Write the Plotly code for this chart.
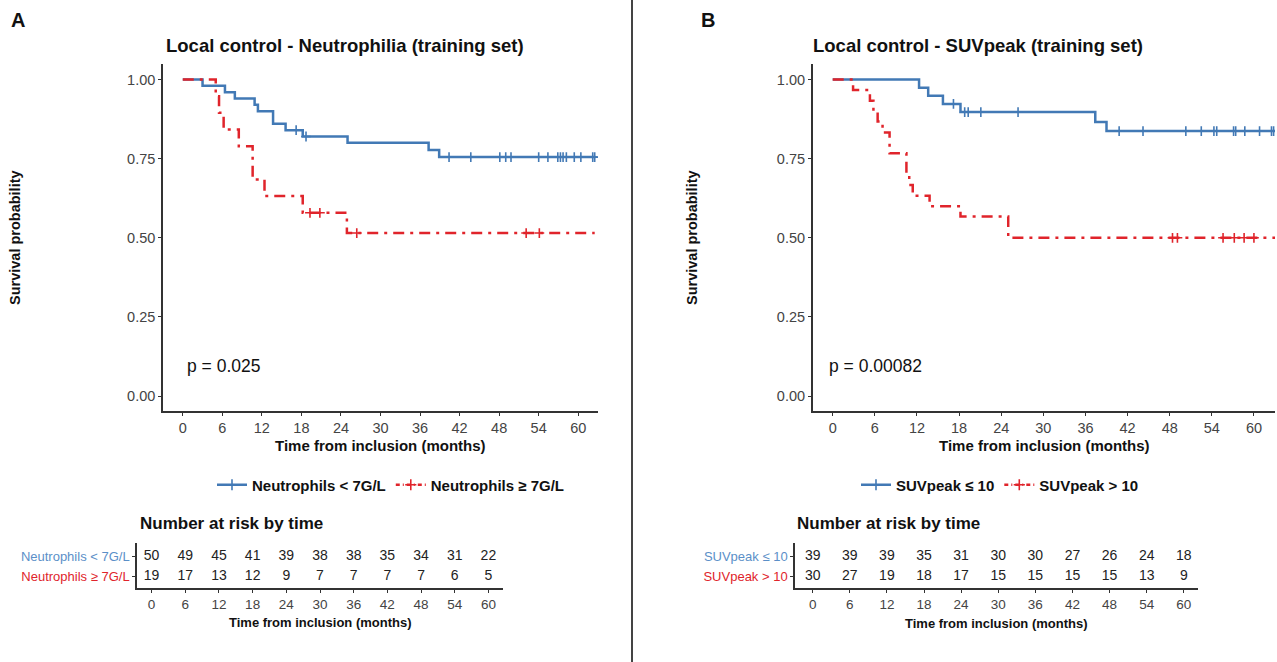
import numpy as np
import plotly.graph_objects as go

W, H = 1277, 662

risk_times = [0, 6, 12, 18, 24, 30, 36, 42, 48, 54, 60]

# panel A : neutrophils
a_low_t = [0, 3.0, 6.4, 7.9, 10.9, 11.4, 13.7, 15.6, 18.2, 25.0, 37.3, 38.9, 62.6]
a_low_s = [1, 0.98, 0.96, 0.94, 0.92, 0.90, 0.86, 0.84, 0.82, 0.80, 0.777, 0.755, 0.755]
a_low_cens = [17.2, 18.7, 40.4, 43.7, 48.1, 49.0, 49.8, 54.0, 55.4, 56.9, 57.3,
              57.7, 58.2, 59.4, 60.4, 62.2, 62.5]
a_high_t = [0, 5.0, 5.5, 6.2, 8.5, 10.6, 12.4, 18.2, 24.9, 62.5]
a_high_s = [1, 0.947, 0.895, 0.842, 0.789, 0.684, 0.632, 0.579, 0.515, 0.515]
a_high_cens = [19.3, 20.8, 26.4, 52.1, 54.1]
a_risk_low = [50, 49, 45, 41, 39, 38, 38, 35, 34, 31, 22]
a_risk_high = [19, 17, 13, 12, 9, 7, 7, 7, 7, 6, 5]
a_labels = ["Neutrophils < 7G/L", "Neutrophils \u2265 7G/L"]

# panel B : SUVpeak
b_low_t = [0, 12.3, 13.6, 15.7, 18.2, 37.4, 39.0, 63]
b_low_s = [1, 0.974, 0.949, 0.923, 0.897, 0.866, 0.837, 0.837]
b_low_cens = [17.2, 18.8, 19.3, 21.1, 26.4, 40.8, 44.2, 50.3, 52.5, 54.3, 54.7,
              57.1, 57.4, 58.7, 60.8, 62.5, 62.8]
b_high_t = [0, 2.9, 5.3, 5.8, 6.4, 7.1, 8.1, 10.5, 10.9, 11.4, 13.8, 18.2, 25.0, 63]
b_high_s = [1, 0.967, 0.933, 0.90, 0.867, 0.833, 0.767, 0.70, 0.667, 0.633, 0.60,
            0.567, 0.50, 0.50]
b_high_cens = [48.4, 49.1, 55.6, 57.2, 58.6, 60.0]
b_risk_low = [39, 39, 39, 35, 31, 30, 30, 27, 26, 24, 18]
b_risk_high = [30, 27, 19, 18, 17, 15, 15, 15, 15, 13, 9]
b_labels = ["SUVpeak \u2264 10", "SUVpeak > 10"]

BLUE = "#4279B5"
RED = "#E0242B"
FONT = "Liberation Sans, Arial, sans-serif"
AXC = "#333333"
DASH = "11px,6px,3px,6px"


def px(x):
    return x / W


def py(y):
    return 1 - y / H


def km_traces(t, s, cens, color, dash, xa, ya):
    line = go.Scatter(x=t, y=s, mode="lines", xaxis=xa, yaxis=ya, showlegend=False,
                      line=dict(color=color, width=2.5, dash=dash, shape="hv"),
                      hoverinfo="skip")
    idx = np.searchsorted(t, cens, side="right") - 1
    cy = [s[i] for i in idx]
    marks = go.Scatter(x=cens, y=cy, mode="markers", xaxis=xa, yaxis=ya, showlegend=False,
                       marker=dict(symbol="cross-thin", size=7, color=color,
                                   line=dict(color=color, width=1.6)),
                       hoverinfo="skip")
    return [line, marks]


fig = go.Figure()

for tr in km_traces(a_low_t, a_low_s, a_low_cens, BLUE, "solid", "x", "y"):
    fig.add_trace(tr)
for tr in km_traces(a_high_t, a_high_s, a_high_cens, RED, DASH, "x", "y"):
    fig.add_trace(tr)
for tr in km_traces(b_low_t, b_low_s, b_low_cens, BLUE, "solid", "x3", "y3"):
    fig.add_trace(tr)
for tr in km_traces(b_high_t, b_high_s, b_high_cens, RED, DASH, "x3", "y3"):
    fig.add_trace(tr)

# legend entries
for labels, lg, xa, ya in [(a_labels, "legend", "x", "y"), (b_labels, "legend2", "x3", "y3")]:
    for name, color, dash in zip(labels, [BLUE, RED], ["solid", "4px,3px,1px,3px"]):
        fig.add_trace(go.Scatter(x=[None], y=[None], mode="lines+markers", name=name,
                                 legend=lg, xaxis=xa, yaxis=ya,
                                 line=dict(color=color, width=2.5, dash=dash),
                                 marker=dict(symbol="cross-thin", size=8, color=color,
                                             line=dict(color=color, width=1.6))))

# risk tables
for vals, row in [(a_risk_low, 1), (a_risk_high, 0)]:
    fig.add_trace(go.Scatter(x=risk_times, y=[row] * len(risk_times), text=[str(v) for v in vals],
                             mode="text", xaxis="x2", yaxis="y2", showlegend=False,
                             textfont=dict(size=14, color="#222222"), hoverinfo="skip"))
for vals, row in [(b_risk_low, 1), (b_risk_high, 0)]:
    fig.add_trace(go.Scatter(x=risk_times, y=[row] * len(risk_times), text=[str(v) for v in vals],
                             mode="text", xaxis="x4", yaxis="y4", showlegend=False,
                             textfont=dict(size=14, color="#222222"), hoverinfo="skip"))

axis_common = dict(showline=True, linecolor=AXC, linewidth=1.5, ticks="outside", ticklen=3,
                   tickcolor=AXC, tickwidth=1.2, showgrid=False, zeroline=False,
                   tickfont=dict(size=14.5, color="#444444", family=FONT))
tab_common = dict(axis_common, tickfont=dict(size=13.5, color="#444444", family=FONT))


def row_ticks(labels):
    return ['<span style="color:%s">%s</span>' % (RED, labels[1]),
            '<span style="color:%s">%s</span>' % ("#5B8FC8", labels[0])]


main_y = dict(axis_common, range=[-0.047, 1.049], tickvals=[0, 0.25, 0.5, 0.75, 1],
              tickformat=".2f", domain=[py(411), py(64)])
tab_y = dict(tab_common, range=[-0.6, 1.65], tickvals=[0, 1], domain=[py(588), py(543)],
             tickfont=dict(size=13, family=FONT))

fig.update_layout(
    width=W, height=H, margin=dict(l=0, r=0, t=0, b=0),
    paper_bgcolor="white", plot_bgcolor="white",
    font=dict(family=FONT, color="#111111"),
    xaxis=dict(axis_common, domain=[px(163), px(598)], range=[-3, 63], tickvals=risk_times, anchor="y"),
    yaxis=dict(main_y, anchor="x"),
    xaxis2=dict(tab_common, domain=[px(137), px(503)], range=[-2.6, 62.6], tickvals=risk_times, anchor="y2"),
    yaxis2=dict(tab_y, anchor="x2", ticktext=row_ticks(a_labels)),
    xaxis3=dict(axis_common, domain=[px(812.7), px(1275)], range=[-2.85, 63], tickvals=risk_times, anchor="y3"),
    yaxis3=dict(main_y, anchor="x3"),
    xaxis4=dict(tab_common, domain=[px(795), px(1198)], range=[-2.86, 62.3], tickvals=risk_times, anchor="y4"),
    yaxis4=dict(tab_y, anchor="x4", ticktext=row_ticks(b_labels)),
    legend=dict(orientation="h", x=px(391), y=py(485), xanchor="center", yanchor="middle",
                font=dict(size=15, family=FONT, weight="bold", color="#111111"),
                itemwidth=30, bgcolor="rgba(0,0,0,0)"),
    legend2=dict(orientation="h", x=px(1000), y=py(485), xanchor="center", yanchor="middle",
                 font=dict(size=15, family=FONT, weight="bold", color="#111111"),
                 itemwidth=30, bgcolor="rgba(0,0,0,0)"),
    shapes=[dict(type="line", xref="paper", yref="paper", x0=px(632), x1=px(632), y0=0, y1=1,
                 line=dict(color="#444444", width=2))],
)


def note(text, x, y, size, bold=False, xanchor="left", angle=0, color="#111111"):
    fig.add_annotation(text=text, x=px(x), y=py(y), xref="paper", yref="paper",
                       xanchor=xanchor, yanchor="middle", showarrow=False, textangle=angle,
                       font=dict(size=size, family=FONT, color=color,
                                 weight="bold" if bold else "normal"))


note("A", 9, 20, 20, bold=True)
note("B", 699, 20, 20, bold=True)
note("Local control - Neutrophilia (training set)", 164, 46, 18.5, bold=True)
note("Local control - SUVpeak (training set)", 811, 46, 18.5, bold=True)
note("Survival probability", 15, 238, 14.5, bold=True, xanchor="center", angle=-90)
note("Survival probability", 692, 238, 14.5, bold=True, xanchor="center", angle=-90)
note("Time from inclusion (months)", 380.5, 445, 15, bold=True, xanchor="center")
note("Time from inclusion (months)", 1044, 445, 15, bold=True, xanchor="center")
note("p = 0.025", 185, 366, 17.5)
note("p = 0.00082", 827, 366, 17.5)
note("Number at risk by time", 138, 523, 17, bold=True)
note("Number at risk by time", 795, 523, 17, bold=True)
note("Time from inclusion (months)", 320, 622, 13, bold=True, xanchor="center")
note("Time from inclusion (months)", 996.5, 623, 13, bold=True, xanchor="center")

fig.write_html("out.html", config={"displayModeBar": False},
               post_script="document.body.style.margin='0';")
